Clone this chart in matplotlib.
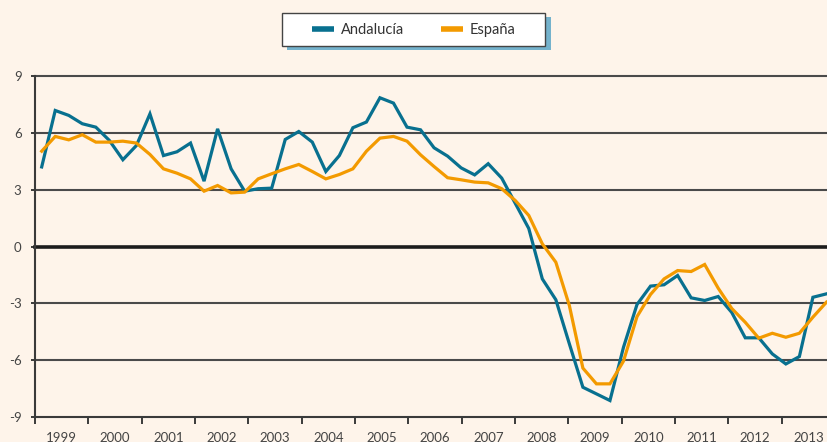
import numpy as np
import matplotlib
matplotlib.use("Agg")
import matplotlib.pyplot as plt
from matplotlib.patches import Rectangle
from matplotlib.lines import Line2D

# quarterly data, 1999 Q1 .. 2013 Q3
andalucia = [4.2, 7.18, 6.92, 6.48, 6.3, 5.6, 4.58, 5.33, 7.0, 4.8,
             5.0, 5.46, 3.45, 6.21, 4.1, 2.92, 3.05, 3.08, 5.65, 6.07,
             5.51, 3.96, 4.8, 6.27, 6.57, 7.85, 7.57, 6.3, 6.16, 5.21,
             4.77, 4.15, 3.78, 4.37, 3.61, 2.28, 0.95, -1.71, -2.81, -5.14,
             -7.43, -7.78, -8.13, -5.32, -3.06, -2.09, -2.02, -1.53, -2.71, -2.85,
             -2.64, -3.48, -4.82, -4.82, -5.67, -6.2, -5.81, -2.68, -2.5]
espana = [5.03, 5.81, 5.63, 5.9, 5.51, 5.51, 5.56, 5.46, 4.86, 4.1,
          3.87, 3.57, 2.92, 3.22, 2.83, 2.87, 3.57, 3.84, 4.1, 4.33,
          3.96, 3.57, 3.8, 4.1, 5.03, 5.72, 5.81, 5.56, 4.84, 4.22,
          3.63, 3.52, 3.4, 3.36, 3.05, 2.43, 1.64, 0.14, -0.83, -3.12,
          -6.42, -7.25, -7.25, -6.05, -3.7, -2.53, -1.71, -1.27, -1.32, -0.95,
          -2.2, -3.27, -4.0, -4.84, -4.58, -4.79, -4.58, -3.73, -2.94]
years = [str(y) for y in range(1999, 2014)]
yticks = [-9, -6, -3, 0, 3, 6, 9]

BG = "#FEF4EA"
TEAL = "#08708F"
ORANGE = "#F39A00"
GRID = "#4a4a4a"
TXT = "#3a3a3a"

plt.rcParams['font.family'] = ['Lato', 'DejaVu Sans']

W, H = 827, 442
fig = plt.figure(figsize=(W / 100, H / 100), dpi=100, facecolor=BG)
ax = fig.add_axes([35 / W, 25 / H, (W - 35) / W, 341 / H])
ax.set_facecolor(BG)

x = np.arange(len(andalucia))
ax.plot(x, andalucia, color=TEAL, lw=2.3, zorder=3, solid_joinstyle='miter')
ax.plot(x, espana, color=ORANGE, lw=2.3, zorder=4, solid_joinstyle='miter')

# horizontal grid
for v in yticks[1:]:
    if v == 0:
        ax.axhline(v, color="#1c1c1c", lw=2.6, zorder=2, clip_on=False)
    else:
        ax.axhline(v, color=GRID, lw=1.5, zorder=2, clip_on=False)

# year axis: original ticks are a bit narrower than 4 quarters
x0 = -0.495
year_len = 3.942
ax.set_xlim(x0, x0 + (W - 35) / 13.53)
ax.set_ylim(-9, 9)

major = [x0 + year_len * k for k in range(len(years))]
minor = [m + year_len / 2 for m in major]
ax.set_xticks(major)
ax.set_xticklabels([])
ax.set_xticks(minor, minor=True)
ax.set_xticklabels(years, minor=True)
ax.tick_params(axis='x', which='major', direction='out', length=5,
               width=1.4, color=TXT)
ax.tick_params(axis='x', which='minor', length=0, pad=10.5,
               labelsize=9.5, labelcolor="#444444")

ax.set_yticks(yticks)
ax.set_yticklabels([str(v) for v in yticks])
ax.tick_params(axis='y', direction='out', length=3.2, width=1.4, color=TXT,
               pad=6.5, labelsize=9.5, labelcolor="#444444")

for s in ['top', 'right']:
    ax.spines[s].set_visible(False)
for s in ['left', 'bottom']:
    ax.spines[s].set_color(TXT)
    ax.spines[s].set_linewidth(1.5)

# legend box with offset shadow
fig.patches.append(Rectangle((287 / W, 1 - 50 / H), 264 / W, 33 / H,
                             transform=fig.transFigure, facecolor="#74B2CC",
                             edgecolor='none', zorder=1))
fig.patches.append(Rectangle((282 / W, 1 - 46 / H), 263 / W, 33 / H,
                             transform=fig.transFigure, facecolor="white",
                             edgecolor="#444444", lw=1.0, zorder=2))
handles = [Line2D([], [], color=TEAL, lw=4, solid_capstyle='butt'),
           Line2D([], [], color=ORANGE, lw=4, solid_capstyle='butt')]
leg = fig.legend(handles, ['Andalucía', 'España'], loc='center',
                 bbox_to_anchor=(414 / W, 1 - 30 / H), ncol=2, frameon=False,
                 fontsize=10.5, handlelength=1.5, handletextpad=0.5,
                 columnspacing=2.5, labelcolor="#333333")
leg.set_zorder(5)

fig.savefig("out.png", dpi=100, facecolor=BG)
